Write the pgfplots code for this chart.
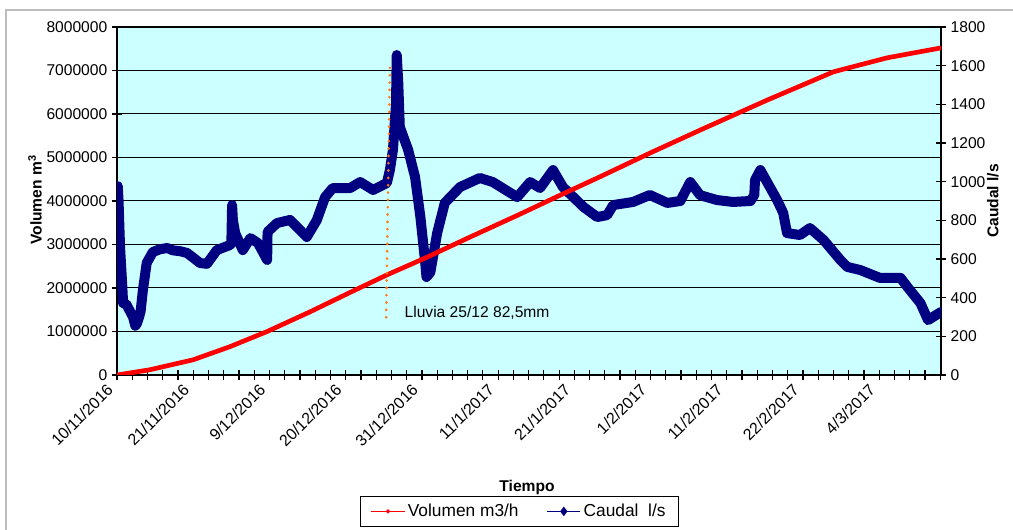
\documentclass[border=0pt]{standalone}
\usepackage{pgfplots}
\pgfplotsset{compat=1.18}
\usepackage{fontspec}
\setmainfont{Liberation Sans}
\definecolor{bgc}{RGB}{204,255,255}
\definecolor{navyc}{RGB}{0,0,128}
\definecolor{orangec}{RGB}{255,120,20}
\definecolor{framegray}{RGB}{190,190,190}
\newcommand{\chartfont}{\fontsize{11.7pt}{14pt}\selectfont}
\newcommand{\legfont}{\fontsize{13pt}{15pt}\selectfont}

\begin{document}
\begin{tikzpicture}
\useasboundingbox (-87.75pt,-116.25pt) rectangle (672pt,281.25pt);
\draw[framegray, line width=1.5pt] (-83.25pt,-116.25pt) -- (-83.25pt,273.75pt) -- (672pt,273.75pt);
\pgfplotsset{
  base/.style={
    at={(0pt,0pt)}, anchor=south west, scale only axis,
    width=618pt, height=261pt,
    xmin=0, xmax=10.81,
    font=\chartfont,
    tick label style={font=\chartfont},
    label style={font=\chartfont},
  }
}
% axis 1: volume scale, background, grid, left ticks, x ticks
\begin{axis}[base,
  ymin=0, ymax=8000000, scaled y ticks=false,
  axis background/.style={fill=bgc},
  axis line style={line width=1.1pt},
  ytick={0,1000000,2000000,3000000,4000000,5000000,6000000,7000000,8000000},
  yticklabels={0,1000000,2000000,3000000,4000000,5000000,6000000,7000000,8000000},
  ymajorgrids, grid style={black, line width=0.75pt},
  ytick pos=left, xtick pos=bottom,
  tick align=center, major tick length=7.5pt, minor tick length=7.5pt,
  tick style={black, line width=0.9pt},
  xtick={0,1,...,10},
  minor xtick={0,0.2,...,10.8},
  xticklabels={10/11/2016,21/11/2016,9/12/2016,20/12/2016,31/12/2016,11/1/2017,21/1/2017,1/2/2017,11/2/2017,22/2/2017,4/3/2017},
  xticklabel style={rotate=45, anchor=east, xshift=-4pt, font=\fontsize{12pt}{14pt}\selectfont},
  xlabel={\textbf{Tiempo}},
  xlabel style={at={(axis description cs:0.4976,-0.322)}, anchor=center},
  ylabel={\textbf{Volumen m\textsuperscript{3}}},
  ylabel style={at={(axis description cs:-0.0995,0.503)}, anchor=center},
]
\addplot[draw=none, forget plot] coordinates {(0,0)};
\end{axis}
% axis 2: caudal
\begin{axis}[base,
  ymin=0, ymax=1800,
  axis x line=none, axis y line*=right,
  axis line style={line width=1.1pt},
  ytick={0,200,400,600,800,1000,1200,1400,1600,1800},
  yticklabels={0,200,400,600,800,1000,1200,1400,1600,1800},
  tick align=center, major tick length=7.5pt,
  tick style={black, line width=0.9pt},
  ylabel={\textbf{Caudal l/s}},
  ylabel style={at={(axis description cs:1.063,0.5)}, anchor=center},
]
\addplot[navyc, line width=7.5pt, line join=round, line cap=round] coordinates {
(0.01,977) (0.02,905) (0.04,662) (0.07,455) (0.08,372) (0.12,367) (0.17,330)
(0.21,300) (0.24,255) (0.26,265) (0.29,300) (0.31,330) (0.34,440) (0.39,580)
(0.47,636) (0.56,650) (0.66,657) (0.73,645) (0.83,640) (0.92,631) (1.09,579)
(1.18,575) (1.31,646) (1.48,672) (1.50,680) (1.51,879) (1.52,802) (1.55,734)
(1.65,646) (1.75,708) (1.85,682) (1.97,595) (1.975,740) (2.10,786) (2.27,802)
(2.49,714) (2.62,800) (2.73,920) (2.83,967) (3.06,967) (3.19,998) (3.36,957)
(3.54,993) (3.58,1060) (3.62,1164) (3.66,1400) (3.67,1655) (3.69,1510) (3.71,1283)
(3.82,1164) (3.91,1024) (3.98,817) (4.04,595) (4.06,507) (4.11,530) (4.20,734)
(4.30,890) (4.50,972) (4.76,1019) (4.93,998) (5.25,920) (5.42,998) (5.55,967)
(5.72,1060) (5.85,972) (6.12,869) (6.30,817) (6.43,827) (6.51,879) (6.77,895)
(6.99,931) (7.22,890) (7.39,900) (7.52,998) (7.65,930) (7.87,905) (8.08,895)
(8.31,900) (8.36,930) (8.37,1008) (8.44,1060) (8.66,905) (8.74,838) (8.79,734)
(8.96,724) (9.09,760) (9.27,698) (9.49,595) (9.58,559) (9.75,543) (10.01,502)
(10.28,502) (10.37,455) (10.54,372) (10.64,284) (10.81,326)
};
\end{axis}
% axis 3: volume overlay
\begin{axis}[base,
  ymin=0, ymax=8000000,
  axis lines=none, xtick=\empty, ytick=\empty,
  legend columns=2,
  legend image code/.code={\draw[mark repeat=2,mark phase=2,#1] plot coordinates {(0pt,0pt) (12.5pt,0pt) (25pt,0pt)};},
  legend style={at={(0.4885,-0.392)}, anchor=center, draw=black, line width=0.75pt,
    inner xsep=8pt, inner ysep=3.5pt,
    /tikz/every even column/.append style={column sep=19pt}},
]
\addlegendimage{red, line width=0.75pt, mark=*, mark size=1.2pt}
\addlegendentry{\legfont Volumen m3/h}
\addlegendimage{navyc, line width=0.75pt, mark=diamond*, mark size=3pt}
\addlegendentry{\legfont Caudal\ \ l/s}
\addplot[red, line width=3.5pt, line cap=round, forget plot]
coordinates {
(0,0) (0.43,120000) (1.0,350000) (1.48,650000) (1.97,1000000) (2.53,1450000)
(3.06,1900000) (3.54,2300000) (4.07,2710000) (4.63,3170000) (5.29,3700000)
(5.81,4130000) (6.34,4560000) (6.99,5100000) (7.65,5630000) (8.53,6320000)
(9.40,6970000) (10.10,7290000) (10.81,7520000)
};
\addplot[orangec, line width=2.2pt, line cap=round, dash pattern=on 0pt off 5.5pt, forget plot]
coordinates {(3.58,7060000) (3.53,1260000)};
\node[anchor=west, font=\chartfont, inner sep=0pt] at (axis cs:3.77,1425000) {Lluvia 25/12 82,5mm};
\end{axis}
\end{tikzpicture}
\end{document}
